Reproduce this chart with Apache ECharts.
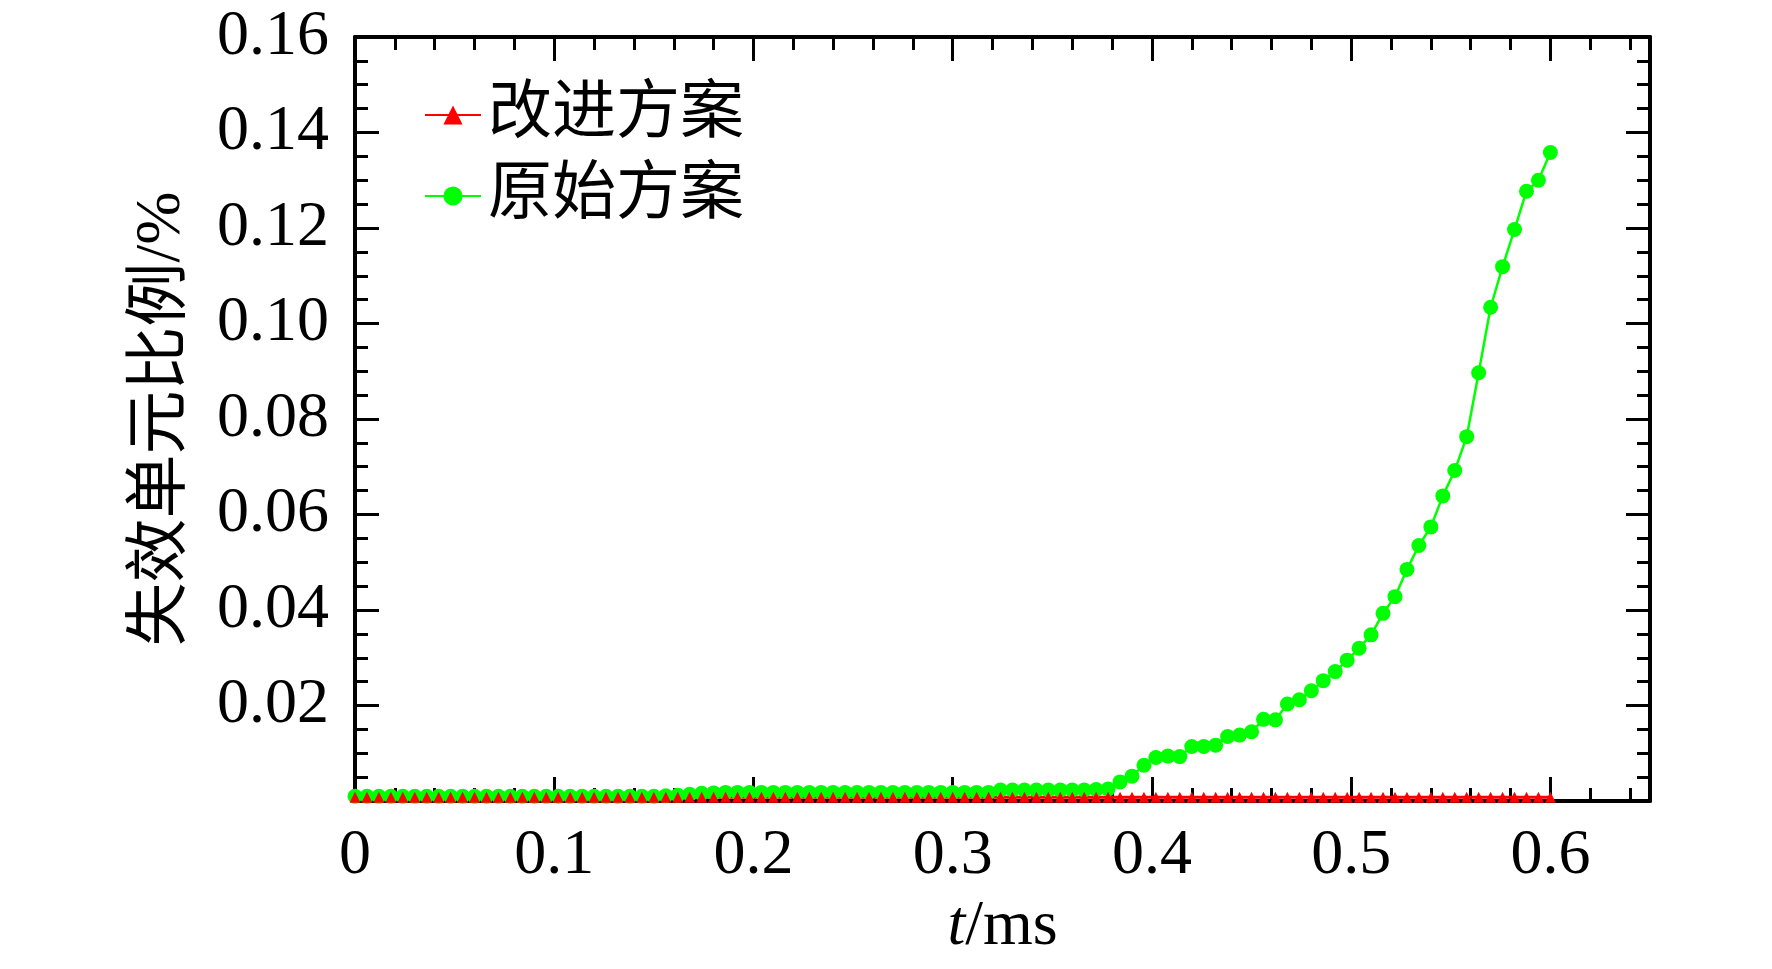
<!DOCTYPE html>
<html lang="zh">
<head>
  <meta charset="UTF-8">
  <title>失效单元比例</title>
  <style>
    html, body { margin: 0; padding: 0; background: #fff; }
    #chart { width: 1772px; height: 969px; }
  </style>
  <script src="https://cdn.jsdelivr.net/npm/echarts@6/dist/echarts.min.js"></script>
</head>
<body>
  <div id="chart"></div>
  <script>
    // time, ms
    const timeMs = [
      0, 0.006, 0.012, 0.018, 0.024, 0.03, 0.036, 0.042, 0.048, 0.054,
      0.06, 0.066, 0.072, 0.078, 0.084, 0.09, 0.096, 0.102, 0.108, 0.114,
      0.12, 0.126, 0.132, 0.138, 0.144, 0.15, 0.156, 0.162, 0.168, 0.174,
      0.18, 0.186, 0.192, 0.198, 0.204, 0.21, 0.216, 0.222, 0.228, 0.234,
      0.24, 0.246, 0.252, 0.258, 0.264, 0.27, 0.276, 0.282, 0.288, 0.294,
      0.3, 0.306, 0.312, 0.318, 0.324, 0.33, 0.336, 0.342, 0.348, 0.354,
      0.36, 0.366, 0.372, 0.378, 0.384, 0.39, 0.396, 0.402, 0.408, 0.414,
      0.42, 0.426, 0.432, 0.438, 0.444, 0.45, 0.456, 0.462, 0.468, 0.474,
      0.48, 0.486, 0.492, 0.498, 0.504, 0.51, 0.516, 0.522, 0.528, 0.534,
      0.54, 0.546, 0.552, 0.558, 0.564, 0.57, 0.576, 0.582, 0.588, 0.594,
      0.6
    ];

    // 原始方案, %
    const originalPlan = [
      0.0010, 0.0010, 0.0010, 0.0010, 0.0010, 0.0010, 0.0010, 0.0010, 0.0010, 0.0010,
      0.0010, 0.0010, 0.0010, 0.0010, 0.0010, 0.0010, 0.0010, 0.0010, 0.0010, 0.0010,
      0.0010, 0.0010, 0.0010, 0.0010, 0.0010, 0.0010, 0.0011, 0.0012, 0.0014, 0.0016,
      0.0017, 0.0018, 0.0018, 0.0018, 0.0018, 0.0018, 0.0018, 0.0018, 0.0018, 0.0018,
      0.0018, 0.0018, 0.0018, 0.0018, 0.0018, 0.0018, 0.0018, 0.0018, 0.0018, 0.0018,
      0.0018, 0.0018, 0.0018, 0.0018, 0.0023, 0.0023, 0.0023, 0.0023, 0.0023, 0.0023,
      0.0023, 0.0023, 0.0024, 0.0025, 0.0040, 0.0052, 0.0075, 0.0091, 0.0094, 0.0093,
      0.0114, 0.0114, 0.0117, 0.0135, 0.0138, 0.0145, 0.0171, 0.0170, 0.0203, 0.0212,
      0.0231, 0.0252, 0.0271, 0.0295, 0.0320, 0.0348, 0.0393, 0.0428, 0.0485, 0.0535,
      0.0574, 0.0639, 0.0692, 0.0763, 0.0897, 0.1034, 0.1119, 0.1197, 0.1277, 0.1300,
      0.1358
    ];

    // 改进方案, %
    const improvedPlan = [
      0.0008, 0.0008, 0.0008, 0.0008, 0.0008, 0.0008, 0.0008, 0.0008, 0.0008, 0.0008,
      0.0008, 0.0008, 0.0008, 0.0008, 0.0008, 0.0008, 0.0008, 0.0008, 0.0008, 0.0008,
      0.0008, 0.0008, 0.0008, 0.0008, 0.0008, 0.0008, 0.0008, 0.0008, 0.0008, 0.0008,
      0.0008, 0.0008, 0.0008, 0.0008, 0.0008, 0.0008, 0.0008, 0.0008, 0.0008, 0.0008,
      0.0008, 0.0008, 0.0008, 0.0008, 0.0008, 0.0008, 0.0008, 0.0008, 0.0008, 0.0008,
      0.0008, 0.0008, 0.0008, 0.0008, 0.0008, 0.0008, 0.0008, 0.0008, 0.0008, 0.0008,
      0.0008, 0.0008, 0.0008, 0.0008, 0.0008, 0.0008, 0.0008, 0.0008, 0.0008, 0.0008,
      0.0008, 0.0008, 0.0008, 0.0008, 0.0008, 0.0008, 0.0008, 0.0008, 0.0008, 0.0008,
      0.0008, 0.0008, 0.0008, 0.0008, 0.0008, 0.0008, 0.0008, 0.0008, 0.0008, 0.0008,
      0.0008, 0.0008, 0.0008, 0.0008, 0.0008, 0.0008, 0.0008, 0.0008, 0.0008, 0.0008,
      0.0008
    ];

    const seriesNames = ['改进方案', '原始方案'];

    const serif = "'Liberation Serif', 'Times New Roman', serif";
    const cjk = "'Liberation Serif', 'Noto Sans CJK SC', serif";
    const black = '#000';

    function pairs(ys) {
      return timeMs.map((t, i) => [t, ys[i]]);
    }

    // x axis: one axis for the long ticks + labels, one for the short ticks
    function xAxisDef(position, major, withLabels) {
      return {
        type: 'value',
        position: position,
        min: 0,
        max: 0.65,
        interval: major ? 0.1 : 0.02,
        axisLine: { show: major, onZero: false, lineStyle: { color: black, width: 4 } },
        axisTick: {
          show: true,
          inside: true,
          length: major ? 24 : 13,
          lineStyle: { color: black, width: 3 }
        },
        axisLabel: {
          show: withLabels,
          margin: 23,
          color: black,
          fontSize: 64,
          fontFamily: serif,
          showMaxLabel: false,
          formatter: v => (v === 0 ? '0' : v.toFixed(1))
        },
        splitLine: { show: false }
      };
    }

    function yAxisDef(position, withLabels) {
      return {
        type: 'value',
        position: position,
        min: 0,
        max: 0.16,
        interval: 0.02,
        axisLine: { show: true, onZero: false, lineStyle: { color: black, width: 4 } },
        axisTick: {
          show: true,
          inside: true,
          length: 24,
          lineStyle: { color: black, width: 3 }
        },
        minorTick: {
          show: true,
          splitNumber: 4,
          length: 13,
          lineStyle: { color: black, width: 3 }
        },
        axisLabel: {
          show: withLabels,
          margin: 26,
          color: black,
          fontSize: 64,
          fontFamily: serif,
          formatter: v => (v === 0 ? '' : v.toFixed(2))
        },
        splitLine: { show: false },
        minorSplitLine: { show: false }
      };
    }

    const xMain = xAxisDef('bottom', true, true);
    xMain.name = '{i|t}/ms';
    xMain.nameLocation = 'middle';
    xMain.nameGap = 94;
    xMain.nameTextStyle = {
      color: black,
      fontSize: 64,
      fontFamily: serif,
      rich: {
        i: { fontStyle: 'italic', fontSize: 64, fontFamily: serif, color: black }
      }
    };

    const yMain = yAxisDef('left', true);
    yMain.name = '失效单元比例/%';
    yMain.nameLocation = 'middle';
    yMain.nameRotate = 90;
    yMain.nameGap = 161;
    yMain.nameTextStyle = { color: black, fontSize: 64, fontFamily: cjk };

    const chart = echarts.init(document.getElementById('chart'));
    chart.setOption({
      animation: false,
      backgroundColor: '#fff',
      grid: { left: 355, right: 122, top: 37, bottom: 168 },
      legend: {
        orient: 'vertical',
        left: 419,
        top: 78,
        itemWidth: 56,
        itemHeight: 24,
        itemGap: 17,
        data: seriesNames,
        textStyle: {
          color: black,
          fontSize: 64,
          fontFamily: cjk,
          padding: [0, 0, 0, 2]
        }
      },
      xAxis: [
        xMain,
        xAxisDef('bottom', false, false),
        xAxisDef('top', true, false),
        xAxisDef('top', false, false)
      ],
      yAxis: [yMain, yAxisDef('right', false)],
      series: [
        {
          name: seriesNames[1],
          type: 'line',
          xAxisIndex: 0,
          yAxisIndex: 0,
          data: pairs(originalPlan),
          symbol: 'circle',
          symbolSize: 15,
          lineStyle: { color: '#00ff00', width: 2.5 },
          itemStyle: { color: '#00ff00' }
        },
        {
          name: seriesNames[0],
          type: 'line',
          xAxisIndex: 0,
          yAxisIndex: 0,
          data: pairs(improvedPlan),
          symbol: 'triangle',
          symbolSize: 11,
          lineStyle: { color: '#ff0000', width: 3 },
          itemStyle: { color: '#ff0000' }
        }
      ]
    });
  </script>
</body>
</html>
